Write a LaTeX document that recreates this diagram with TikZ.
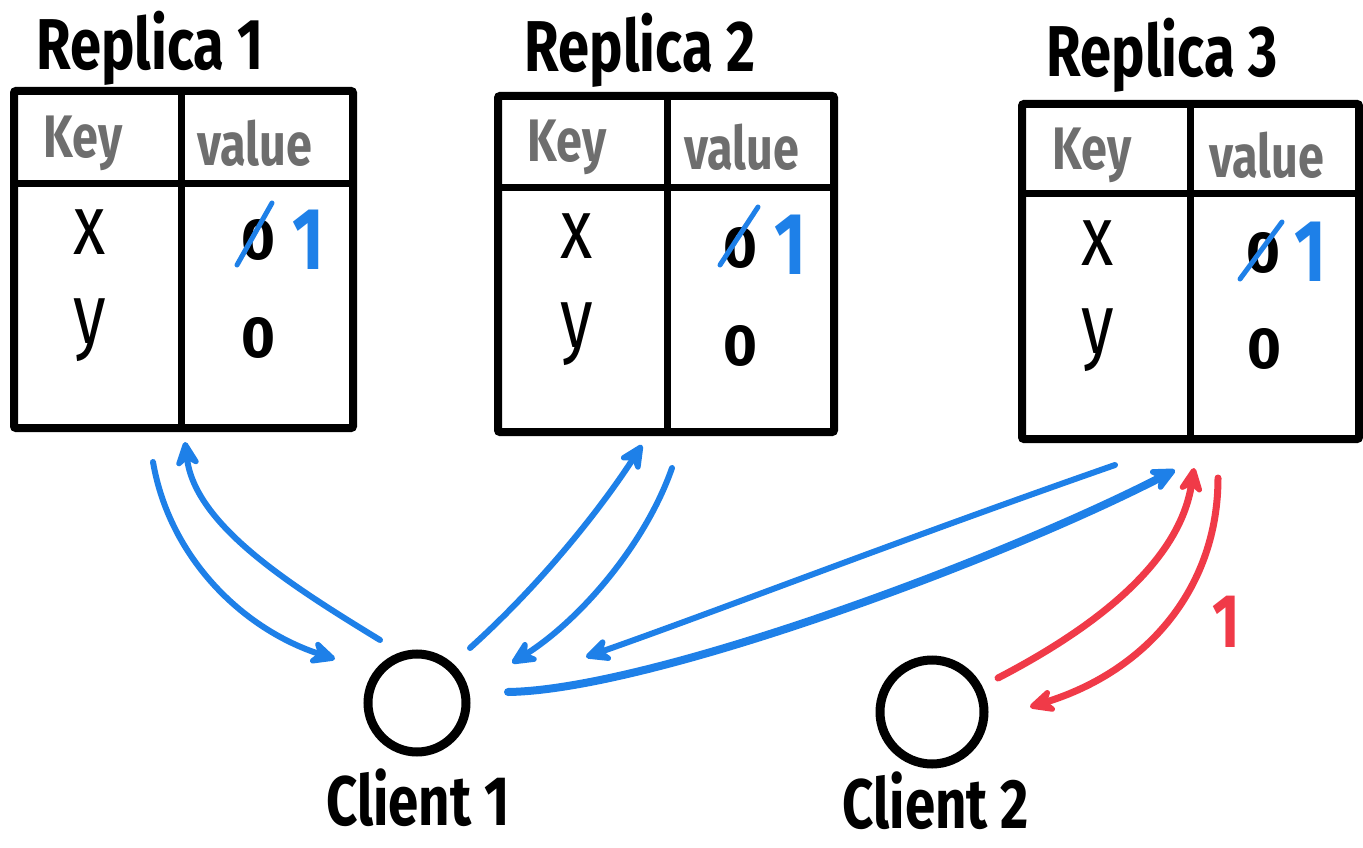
\documentclass[tikz,border=0pt]{standalone}
\usepackage{fontspec}
\setmainfont{Fira Sans}
\newfontfamily\hand{Fira Sans}[FakeStretch=0.78]
\usetikzlibrary{arrows.meta}
\definecolor{ablue}{RGB}{30,128,232}
\definecolor{ared}{RGB}{240,58,72}
\definecolor{hgray}{RGB}{110,110,110}
\begin{document}
\begin{tikzpicture}[x=1pt,y=-1pt,
  tbox/.style={draw=black, line width=8pt, rounded corners=2pt, inner sep=0pt},
  tline/.style={draw=black, line width=7pt},
  title/.style={font=\hand\bfseries\fontsize{72}{80}\selectfont, inner sep=0pt},
  head/.style={text=hgray, font=\hand\bfseries\fontsize{60}{66}\selectfont, inner sep=0pt},
  cell/.style={font=\hand\fontsize{85}{90}\selectfont, inner sep=0pt},
  zero/.style={font=\bfseries\fontsize{58}{62}\selectfont, inner sep=0pt},
  one/.style={text=ablue, font=\hand\bfseries\fontsize{88}{90}\selectfont, inner sep=0pt},
  slash/.style={draw=ablue, line width=5pt, line cap=round},
  client/.style={draw=black, circle, line width=9pt, minimum size=98pt, inner sep=0pt},
  clabel/.style={font=\hand\bfseries\fontsize{70}{76}\selectfont, inner sep=0pt},
  barr/.style={draw=ablue, line width=6pt, line cap=round, -{Stealth[length=32pt,width=30pt,round]}},
  thick barr/.style={barr, line width=8pt},
  rarr/.style={draw=ared, line width=7pt, line cap=round, -{Stealth[length=32pt,width=30pt,round]}},
  rlabel/.style={text=ared, font=\hand\bfseries\fontsize{76}{80}\selectfont, inner sep=0pt},
]
\fill[white] (0,0) rectangle (1363,848);
\useasboundingbox (0,0) rectangle (1363,848);

% ---------- Replica 1 ----------
\node[title] (title1) at (150,48) {Replica 1};
\node[tbox, minimum width=339pt, minimum height=337pt] (t1) at (183.5,259.5) {};
\draw[tline] (181,91) -- (181,428);
\draw[tline] (14,183) -- (353,183);
\node[head] (k1) at (83,143) {Key};
\node[head] (v1) at (255,143) {value};
\node[cell] (x1) at (90,232) {x};
\node[cell] (y1) at (90,330) {y};
\node[zero] (z1a) at (258,240) {0};
\draw[slash] (237,265) -- (272,203);
\node[one] (o1) at (308,240) {1};
\node[zero] (z1b) at (258,338) {0};

% ---------- Replica 2 ----------
\node[title] (title2) at (640,50) {Replica 2};
\node[tbox, minimum width=336pt, minimum height=336pt] (t2) at (666,264) {};
\draw[tline] (667,96) -- (667,432);
\draw[tline] (498,187) -- (834,187);
\node[head] (k2) at (567,147) {Key};
\node[head] (v2) at (742,147) {value};
\node[cell] (x2) at (577,236) {x};
\node[cell] (y2) at (577,334) {y};
\node[zero] (z2a) at (740,248) {0};
\draw[slash] (720,265) -- (758,207);
\node[one] (o2) at (790,245) {1};
\node[zero] (z2b) at (740,346) {0};

% ---------- Replica 3 ----------
\node[title] (title3) at (1162,55) {Replica 3};
\node[tbox, minimum width=337pt, minimum height=335pt] (t3) at (1190.5,271.5) {};
\draw[tline] (1190,104) -- (1190,439);
\draw[tline] (1022,193) -- (1359,193);
\node[head] (k3) at (1092,155) {Key};
\node[head] (v3) at (1267,155) {value};
\node[cell] (x3) at (1098,243) {x};
\node[cell] (y3) at (1098,340) {y};
\node[zero] (z3a) at (1263,253) {0};
\draw[slash] (1240,279) -- (1282,222);
\node[one] (o3) at (1310,252) {1};
\node[zero] (z3b) at (1264,349) {0};

% ---------- Clients ----------
\node[client] (c1) at (417,703) {};
\node[clabel] (c1l) at (418,798) {Client 1};
\node[client, minimum size=104pt] (c2) at (932,712) {};
\node[clabel] (c2l) at (936,801) {Client 2};

% ---------- arrow end points ----------
\coordinate (r1out) at (153,462);
\coordinate (c1in1) at (335,659);
\coordinate (c1out1) at (380,640);
\coordinate (r1in) at (185,442);
\coordinate (c1out2) at (470,648);
\coordinate (r2in) at (642,445);
\coordinate (r2out) at (672,468);
\coordinate (c1in2) at (512,663);
\coordinate (r3out) at (1115,465);
\coordinate (c1in3) at (586,657);
\coordinate (c1out3) at (508,692);
\coordinate (r3in) at (1175,470);
\coordinate (c2out) at (998,678);
\coordinate (r3inr) at (1194,468);
\coordinate (r3outr) at (1218,478);
\coordinate (c2in) at (1030,707);

% ---------- connectors ----------
\draw[barr] (r1out) .. controls (170,560) and (245,630) .. (c1in1);
\draw[barr] (c1out1) .. controls (290,585) and (195,525) .. (r1in);
\draw[barr] (c1out2) .. controls (540,585) and (600,510) .. (r2in);
\draw[barr] (r2out) .. controls (645,545) and (580,620) .. (c1in2);
\draw[barr] (r3out) .. controls (900,540) and (720,610) .. (c1in3);
\draw[thick barr] (c1out3) .. controls (650,690) and (1000,560) .. (r3in);
\draw[rarr] (c2out) .. controls (1100,625) and (1180,560) .. (r3inr);
\draw[rarr] (r3outr) .. controls (1218,585) and (1150,670) .. (c2in);
\node[rlabel] (lbl) at (1226,622) {1};
\end{tikzpicture}
\end{document}
